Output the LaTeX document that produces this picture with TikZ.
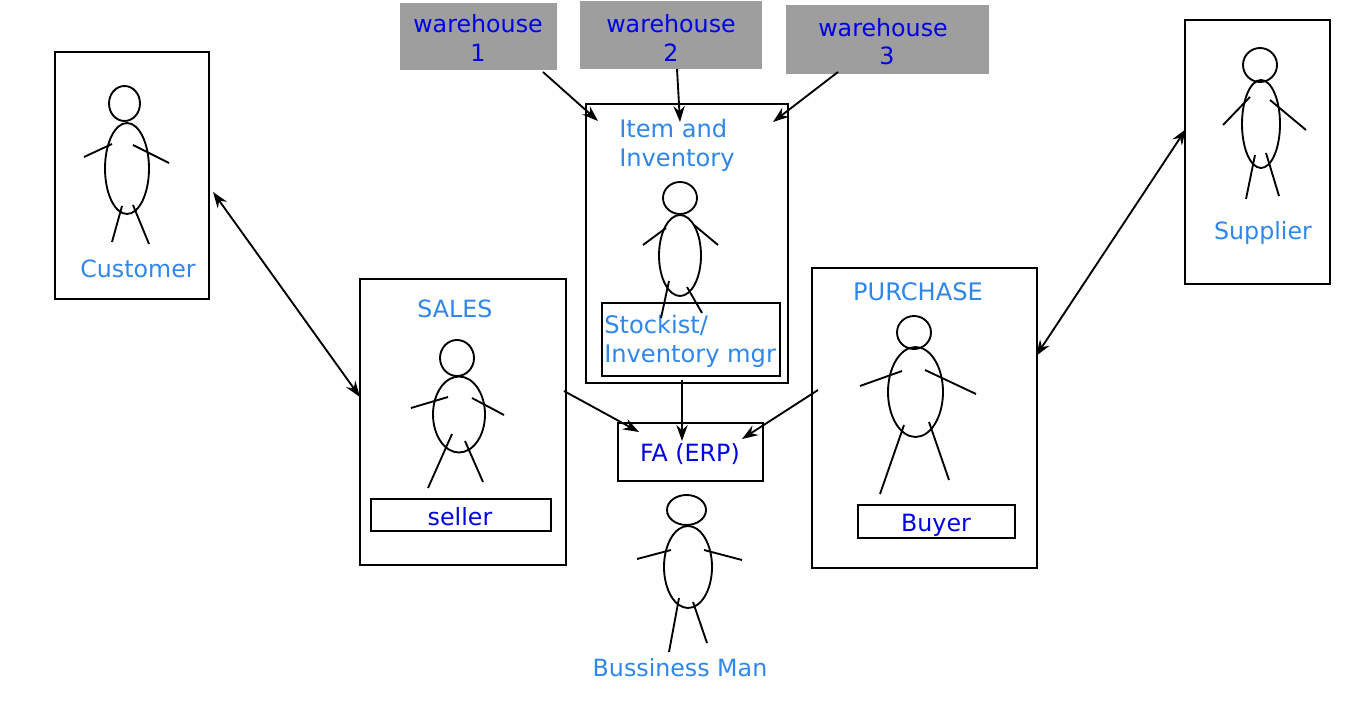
\documentclass[tikz,border=0pt]{standalone}
\usepackage{fontspec}
\setmainfont{DejaVu Sans}
\usetikzlibrary{arrows.meta,fit}
\definecolor{lblue}{HTML}{2F86EB}
\definecolor{dblue}{HTML}{0000E6}
\definecolor{wgray}{HTML}{9E9E9E}
\tikzset{
  x=0.75pt,y=-0.75pt,
  box/.style={draw=black,line width=1.5pt,inner sep=0pt,fit={#1}},
  wbox/.style={fill=wgray,inner sep=0pt,fit={#1}},
  limb/.style={draw=black,line width=1.4pt},
  conn/.style={draw=black,line width=1.4pt,-{Stealth[length=12pt,width=8.5pt,inset=4pt]}},
  biconn/.style={draw=black,line width=1.4pt,{Stealth[length=12pt,width=8.5pt,inset=4pt]}-{Stealth[length=12pt,width=8.5pt,inset=4pt]}},
  lt/.style={text=lblue,font=\fontsize{17.8}{22}\selectfont,inner sep=0pt,align=left},
  ltw/.style={text=lblue,font=\fontsize{18.1}{22}\selectfont,inner sep=0pt,align=left},
  dt/.style={text=dblue,font=\fontsize{17.8}{21.5}\selectfont,inner sep=0pt,align=center},
}
\begin{document}
\begin{tikzpicture}
\useasboundingbox (0,0) rectangle (1366,705);
% warehouses
\node[wbox={(400,3) (557,70)}] (w1) {};
\node[wbox={(580,1) (762,69)}] (w2) {};
\node[wbox={(786,5) (989,74)}] (w3) {};
\node[dt] (w1t) at (478,38) {warehouse\\1};
\node[dt] (w2t) at (671,38) {warehouse\\2};
\node[dt] (w3a) at (883,28) {warehouse};
\node[dt] (w3b) at (887,56) {3};
% boxes
\node[box={(55,52) (209,299)}] (cust) {};
\node[box={(586,104) (788,383)}] (item) {};
\node[box={(1185,20) (1330,284)}] (supp) {};
\node[box={(360,279) (566,565)}] (sales) {};
\node[box={(812,268) (1037,568)}] (purch) {};
\node[box={(618,423) (763,481)}] (fa) {};
\node[box={(602,303) (780,376)}] (stock) {};
\node[box={(371,499) (551,531)}] (seller) {};
\node[box={(858,505) (1015,538)}] (buyer) {};
% labels
\node[lt] (lcust) at (138,269) {Customer};
\node[ltw,anchor=north west] (litem) at (619,118.5) {Item and\\Inventory};
\node[lt] (lsupp) at (1263,232.5) {Supplier};
\node[lt] (lsales) at (455,309) {SALES};
\node[ltw] (lpurch) at (918,292) {PURCHASE};
\node[ltw,anchor=north west] (lstock) at (604,314.5) {Stockist/\\Inventory mgr};
\node[lt] (lbm) at (680,668) {Bussiness Man};
\node[dt] (lfa) at (690,454.5) {FA (ERP)};
\node[dt] (lseller) at (460,517) {seller};
\node[dt] (lbuyer) at (936,525) {Buyer};
% figures: customer
\draw[limb] (124.5,103.5) ellipse (15.5 and 17.5);
\draw[limb] (127,168.5) ellipse (22 and 45.5);
\draw[limb] (84,157) -- (112,144);
\draw[limb] (133,145) -- (169,163);
\draw[limb] (122,206) -- (112,242);
\draw[limb] (133,205) -- (149,244);
% supplier
\draw[limb] (1260,65) ellipse (17 and 17);
\draw[limb] (1261,124) ellipse (19 and 44);
\draw[limb] (1223,125) -- (1250,97);
\draw[limb] (1270,100) -- (1306,130);
\draw[limb] (1255,155) -- (1246,199);
\draw[limb] (1266,153) -- (1279,196);
% item
\draw[limb] (680,198) ellipse (17 and 16);
\draw[limb] (680,255.5) ellipse (21 and 40.5);
\draw[limb] (643,245) -- (666,228);
\draw[limb] (694,225) -- (718,245);
\draw[limb] (669,281) -- (661,318);
\draw[limb] (687,287) -- (702,313);
% sales
\draw[limb] (457,358) ellipse (17 and 18);
\draw[limb] (459,414.5) ellipse (26 and 38);
\draw[limb] (411,408) -- (448,397);
\draw[limb] (472,398) -- (504,415);
\draw[limb] (452,434) -- (428,488);
\draw[limb] (465,441) -- (483,482);
% purchase
\draw[limb] (914,332.5) ellipse (17 and 16.5);
\draw[limb] (915.5,392) ellipse (27.5 and 45);
\draw[limb] (860,386) -- (902,371);
\draw[limb] (925,370) -- (976,394);
\draw[limb] (904,425) -- (880,494);
\draw[limb] (929,422) -- (949,480);
% business man
\draw[limb] (686.5,510) ellipse (19.5 and 15);
\draw[limb] (688,567) ellipse (24 and 41);
\draw[limb] (637,559) -- (671,550);
\draw[limb] (704,550) -- (742,560);
\draw[limb] (679,598) -- (669,652);
\draw[limb] (693,602) -- (707,643);
% connector ends
\coordinate (a1s) at (543,72); \coordinate (a1e) at (598,121);
\coordinate (a2s) at (677,69); \coordinate (a2e) at (680,122);
\coordinate (a3s) at (838,72); \coordinate (a3e) at (773,122);
\coordinate (c1) at (213,192); \coordinate (c2) at (360,397);
\coordinate (d1) at (1036,356); \coordinate (d2) at (1186,129);
\coordinate (f1s) at (564,391); \coordinate (f1e) at (639,432);
\coordinate (f2s) at (682,380); \coordinate (f2e) at (682,441);
\coordinate (f3s) at (818,390); \coordinate (f3e) at (742,439);
\draw[conn] (a1s) -- (a1e);
\draw[conn] (a2s) -- (a2e);
\draw[conn] (a3s) -- (a3e);
\draw[biconn] (c1) -- (c2);
\draw[biconn] (d1) -- (d2);
\draw[conn] (f1s) -- (f1e);
\draw[conn] (f2s) -- (f2e);
\draw[conn] (f3s) -- (f3e);
\end{tikzpicture}
\end{document}
